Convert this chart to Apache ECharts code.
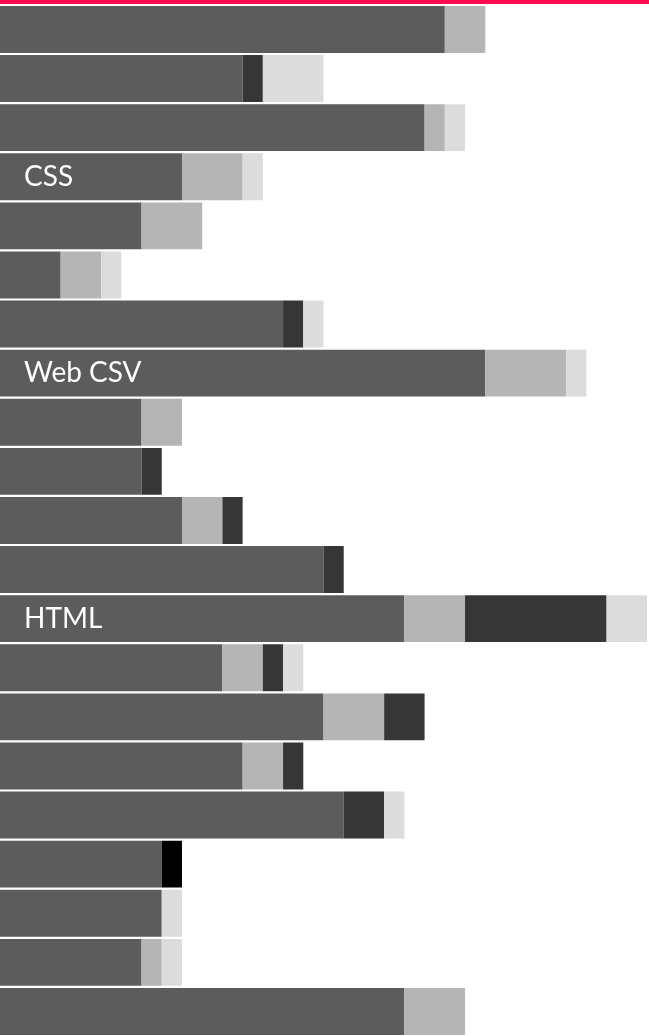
<!DOCTYPE html>
<html>
<head>
<meta charset="utf-8">
<script src="https://cdn.jsdelivr.net/npm/echarts@6/dist/echarts.min.js"></script>
<style>
  html, body { margin: 0; padding: 0; background: #fff; }
  #chart { width: 649px; height: 1036px; }
</style>
</head>
<body>
<div id="chart"></div>
<script>
// one row per bar, top to bottom; only some rows carry a visible name
const categories = ['', '', '', 'CSS', '', '', '', 'Web CSV', '', '', '', '', 'HTML', '', '', '', '', '', '', '', ''];

const mainValues   = [22, 12, 21, 9, 7, 3, 14, 24, 7, 7, 9, 16, 20, 11, 16, 12, 17, 8, 8, 7, 20];
const lightValues  = [2, 0, 1, 3, 3, 2, 0, 4, 2, 0, 2, 0, 3, 2, 3, 2, 0, 0, 0, 1, 3];
const darkValues   = [0, 1, 0, 0, 0, 0, 1, 0, 0, 1, 1, 1, 7, 1, 2, 1, 2, 0, 0, 0, 0];
const blackValues  = [0, 0, 0, 0, 0, 0, 0, 0, 0, 0, 0, 0, 0, 0, 0, 0, 0, 1, 0, 0, 0];
const paleValues   = [0, 3, 1, 1, 0, 1, 1, 1, 0, 0, 0, 0, 2, 1, 0, 0, 1, 0, 1, 1, 0];

const xMax = 32;

const chart = echarts.init(document.getElementById('chart'));

function seg(name, data, color, withLabel) {
  const s = {
    name: name,
    type: 'bar',
    stack: 'total',
    data: data,
    barCategoryGap: '4.5%',
    itemStyle: { color: color },
    silent: true
  };
  if (withLabel) {
    s.label = {
      show: true,
      position: [24, '50%'],
      verticalAlign: 'middle',
      formatter: p => categories[p.dataIndex],
      color: '#ffffff',
      fontFamily: 'Lato',
      fontSize: 28
    };
  }
  return s;
}

chart.setOption({
  animation: false,
  backgroundColor: '#ffffff',
  grid: { left: 0, right: 2, top: 4.9, bottom: -3.15, containLabel: false },
  xAxis: {
    type: 'value',
    min: 0,
    max: xMax,
    show: false
  },
  yAxis: {
    type: 'category',
    data: categories,
    inverse: true,
    show: false
  },
  graphic: [{
    type: 'rect',
    left: 0,
    top: 0,
    shape: { width: 649, height: 4 },
    style: { fill: '#ff0a50' }
  }],
  series: [
    seg('main', mainValues, '#5c5c5c', true),
    seg('light', lightValues, '#b5b5b5'),
    seg('dark', darkValues, '#363636'),
    seg('black', blackValues, '#000000'),
    seg('pale', paleValues, '#dcdcdc')
  ]
});

window.addEventListener('resize', () => chart.resize());
</script>
</body>
</html>
